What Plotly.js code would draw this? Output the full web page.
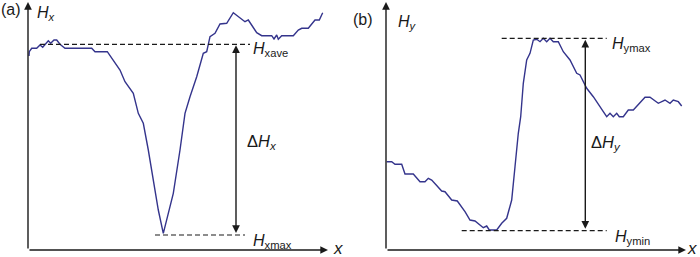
<!DOCTYPE html>
<html><head><meta charset="utf-8">
<script src="https://cdn.plot.ly/plotly-3.0.1.min.js"></script>
<style>html,body{margin:0;padding:0;background:#fff}#chart{width:700px;height:257px}</style>
</head><body><div id="chart"></div>
<script>
// Panel (a): position along x and Hx (arbitrary units)
const xA = [1,1.3,3.7,8.7,12,14.7,20.3,22.7,26,28.7,32,37,63.7,67,79.3,87,92,97,105.3,110.3,115.3,120.3,125.3,130.3,135.3,140.3,145.3,152,157,162,168.7,175.3,178.7,182,187,192,198.7,205.3,212,217,220.3,225.3,228.7,233.7,243.7,246,248.7,250.3,253.7,265.3,270.3,273.7,280.3,287,291.3,294.7];
const hxA = [194,198.3,201.7,201.7,205,202.7,209.3,206.7,210,210,205.7,201.7,201.7,198.3,198.3,186.7,180,168.3,156.7,136.7,126.7,100,70,40,16.7,36.7,56.7,100,136.7,153.3,173.3,196.7,198.3,213.3,216.7,226,226.7,237.3,231.7,228.3,230,221.7,217.3,214.3,214.3,211,215,210.7,214.3,214.3,220,221.7,221.7,230,230,237.3];
// Panel (b): position along x and Hy
const xB = [0.7,5.7,9,15.7,19,27.3,34,39,42.3,45.7,55.7,59,65.7,71.3,79,84,89,97.3,100.7,103.3,110.7,115.7,120.7,125.7,129,132.3,134.7,137.3,140.7,144,147.3,150.7,154,157.3,160.7,164,167.3,172.3,177.3,184,190.7,194,200.7,207.3,217.3,220.7,224,227.3,230.7,233.3,237.3,242.3,247.3,254,259,264,269,272.3,279,284,287.3,292.3,295.7];
const hyB = [88.3,88.3,85.7,85.7,76,76,68.3,68.3,71.7,70,59,58.3,50,49,38.3,30,29,22.3,24,20,20,26.7,31.7,50,83.3,116.7,133.3,166.7,190,196.7,210,210.7,208.3,211.7,208.3,211.7,208.3,208.3,198.3,190,176.7,175,161.7,153.3,138.3,133.3,136.7,133.3,136.7,133.3,133.3,140,140,146.7,152.7,152.7,149,146.7,150,146.7,150,148.3,144];
// Reference levels
const hxAve = 205.7, hxMax = 15;
const hyMax = 211.7, hyMin = 19.3;

const LINE = '#34348c', INK = '#1a1a1a';
const FONT = 'Liberation Sans, Arial, sans-serif';

const traces = [
  {x: xA, y: hxA, xaxis: 'x', yaxis: 'y', mode: 'lines', line: {color: LINE, width: 1.4}},
  {x: xB, y: hyB, xaxis: 'x2', yaxis: 'y2', mode: 'lines', line: {color: LINE, width: 1.4}}
];

function dash(xref, yref, x0, x1, y) {
  return {type: 'line', xref, yref, x0, x1, y0: y, y1: y, line: {color: INK, width: 1.2, dash: '5px,3px'}};
}
function arrow(xref, yref, x, y, ax, ay, both) {
  return {xref, yref, axref: xref, ayref: yref, x, y, ax, ay, text: '', showarrow: true,
    arrowhead: 2, arrowsize: 1.1, arrowwidth: 1.4, arrowcolor: INK, standoff: 0, startstandoff: 0,
    arrowside: both ? 'end+start' : 'end', startarrowhead: 2, startarrowsize: 1.1};
}
function label(px, py, text, size) {
  return {xref: 'paper', yref: 'paper', x: px / 700, y: 1 - py / 257, text, showarrow: false,
    xanchor: 'left', yanchor: 'middle', borderpad: 0, font: {family: FONT, size: size || 16, color: INK}};
}

const layout = {
  width: 700, height: 257, margin: {l: 0, r: 0, t: 0, b: 0},
  paper_bgcolor: '#fff', plot_bgcolor: 'rgba(0,0,0,0)', showlegend: false,
  xaxis: {domain: [28/700, 345/700], range: [0, 317], visible: false},
  yaxis: {domain: [7/257, 1], range: [0, 250], visible: false},
  xaxis2: {domain: [386/700, 1], range: [0, 314], visible: false, anchor: 'y2'},
  yaxis2: {domain: [7/257, 1], range: [0, 250], visible: false, anchor: 'x2'},
  shapes: [
    dash('x', 'y', 12, 222, hxAve),
    dash('x', 'y', 127, 217, hxMax),
    dash('x2', 'y2', 115.7, 220.7, hyMax),
    dash('x2', 'y2', 75.7, 220.7, hyMin)
  ],
  annotations: [
    arrow('x', 'y', 300, 0, 0, 0),
    arrow('x', 'y', 0, 248, 0, 0),
    arrow('x', 'y', 208, hxAve - 1, 208, hxMax + 0.5, true),
    arrow('x2', 'y2', 300, 0, 0, 0),
    arrow('x2', 'y2', 0, 248, 0, 0),
    arrow('x2', 'y2', 199.3, hyMax - 1.5, 199.3, hyMin + 0.5, true),
    label(0, 10, '(a)', 16),
    label(35.5, 13.5, '<i>H</i><sub><i>x</i></sub>', 16),
    label(251.5, 50, '<i>H</i><sub>xave</sub>', 16),
    label(245.5, 142, 'Δ<i>H</i><sub><i>x</i></sub>', 16.5),
    label(251.5, 241, '<i>H</i><sub>xmax</sub>', 16),
    label(332, 248.5, '<i>x</i>', 17),
    label(351.5, 19.5, '(b)', 16),
    label(396.5, 22.5, '<i>H</i><sub><i>y</i></sub>', 16),
    label(611, 44, '<i>H</i><sub>ymax</sub>', 16),
    label(590, 143, 'Δ<i>H</i><sub><i>y</i></sub>', 16.5),
    label(613.5, 237, '<i>H</i><sub>ymin</sub>', 16),
    label(685.5, 248.5, '<i>x</i>', 17)
  ]
};
Plotly.newPlot('chart', traces, layout, {staticPlot: true, displayModeBar: false});
</script></body></html>
